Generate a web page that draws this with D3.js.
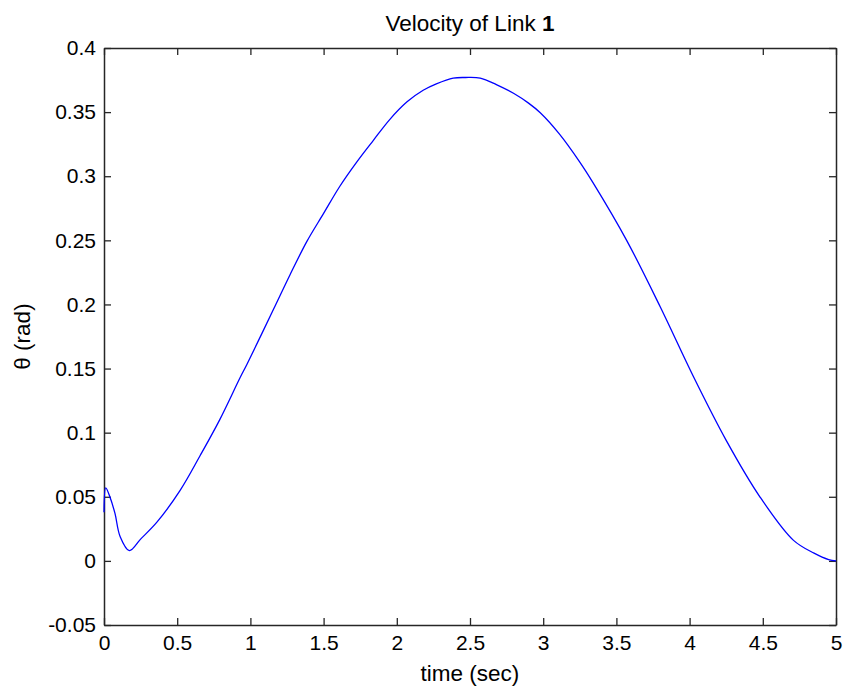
<!DOCTYPE html>
<html>
<head>
<meta charset="utf-8">
<script src="https://cdn.jsdelivr.net/npm/d3@7"></script>
<style>
  html, body { margin: 0; padding: 0; background: #ffffff; }
  svg { display: block; }
  text { font-family: "Liberation Sans", Arial, sans-serif; fill: #000; }
</style>
</head>
<body>
<svg id="chart" width="845" height="691"></svg>
<script>
// Angular velocity of link 1 over time
const timeSec = [0, 0.012, 0.04, 0.075, 0.11, 0.173, 0.25, 0.36, 0.52, 0.656, 0.79, 0.93, 0.975, 1.157, 1.27,
                 1.385, 1.50, 1.61, 1.726, 1.84, 1.95, 2.07, 2.18, 2.27, 2.385, 2.47, 2.57, 2.68, 2.80, 2.90,
                 2.98, 3.11, 3.25, 3.34, 3.57, 3.80, 4.025, 4.25, 4.48, 4.71, 4.85, 4.95, 5.0];
const velocity = [0.038, 0.057, 0.05, 0.037, 0.019, 0.008, 0.017, 0.030, 0.055, 0.082, 0.110, 0.143, 0.153, 0.196, 0.223,
                  0.249, 0.271, 0.292, 0.311, 0.328, 0.344, 0.358, 0.367, 0.372, 0.3765, 0.377, 0.3765, 0.3715, 0.3645, 0.357,
                  0.3495, 0.333, 0.311, 0.295, 0.250, 0.198, 0.144, 0.094, 0.050, 0.016, 0.006, 0.001, 0.0];

const xTicks = [0, 0.5, 1, 1.5, 2, 2.5, 3, 3.5, 4, 4.5, 5];
const yTicks = [-0.05, 0, 0.05, 0.1, 0.15, 0.2, 0.25, 0.3, 0.35, 0.4];

const titleText = "Velocity of Link ";
const titleBold = "1";
const xLabel = "time (sec)";
const yLabel = "\u03b8 (rad)";

const plot = { left: 104, right: 836, top: 48, bottom: 625 };
const svg = d3.select("#chart");

const x = d3.scaleLinear().domain([0, 5]).range([plot.left, plot.right]);
const y = d3.scaleLinear().domain([-0.05, 0.4]).range([plot.bottom, plot.top]);

const fmt = d => String(+d.toFixed(2));
const tickLen = 7;
const tickFont = 21;
const labelFont = 22.5;

function styleAxis(g, showLabels) {
  g.select(".domain").attr("stroke", "#262626").attr("stroke-width", 1.5);
  g.selectAll(".tick line").attr("stroke", "#262626").attr("stroke-width", 1.3);
  g.selectAll(".tick text")
    .attr("font-size", tickFont)
    .attr("font-family", "Liberation Sans, Arial, sans-serif")
    .attr("fill", "#000");
  if (!showLabels) g.selectAll(".tick text").remove();
}

// Bottom axis with labels, ticks pointing inward
svg.append("g")
  .attr("transform", `translate(0,${plot.bottom})`)
  .call(d3.axisBottom(x).tickValues(xTicks).tickFormat(fmt).tickSizeInner(-tickLen).tickSizeOuter(0).tickPadding(10))
  .call(g => styleAxis(g, true));

// Top axis (ticks only)
svg.append("g")
  .attr("transform", `translate(0,${plot.top})`)
  .call(d3.axisTop(x).tickValues(xTicks).tickSizeInner(-tickLen).tickSizeOuter(0))
  .call(g => styleAxis(g, false));

// Left axis with labels
svg.append("g")
  .attr("transform", `translate(${plot.left},0)`)
  .call(d3.axisLeft(y).tickValues(yTicks).tickFormat(fmt).tickSizeInner(-tickLen).tickSizeOuter(0).tickPadding(8))
  .call(g => styleAxis(g, true));

// Right axis (ticks only)
svg.append("g")
  .attr("transform", `translate(${plot.right},0)`)
  .call(d3.axisRight(y).tickValues(yTicks).tickSizeInner(-tickLen).tickSizeOuter(0))
  .call(g => styleAxis(g, false));

// Velocity curve
const line = d3.line()
  .x((d, i) => x(timeSec[i]))
  .y(d => y(d))
  .curve(d3.curveCatmullRom.alpha(0.5));

svg.append("path")
  .datum(velocity)
  .attr("fill", "none")
  .attr("stroke", "#0000ff")
  .attr("stroke-width", 1.3)
  .attr("d", line);

// Title
const title = svg.append("text")
  .attr("x", (plot.left + plot.right) / 2)
  .attr("y", 31)
  .attr("text-anchor", "middle")
  .attr("font-size", labelFont);
title.append("tspan").text(titleText);
title.append("tspan").attr("font-weight", "bold").text(titleBold);

// Axis labels
svg.append("text")
  .attr("x", (plot.left + plot.right) / 2)
  .attr("y", 681)
  .attr("text-anchor", "middle")
  .attr("font-size", labelFont)
  .text(xLabel);

svg.append("text")
  .attr("transform", `translate(30,${(plot.top + plot.bottom) / 2}) rotate(-90)`)
  .attr("text-anchor", "middle")
  .attr("font-size", labelFont)
  .text(yLabel);
</script>
</body>
</html>
